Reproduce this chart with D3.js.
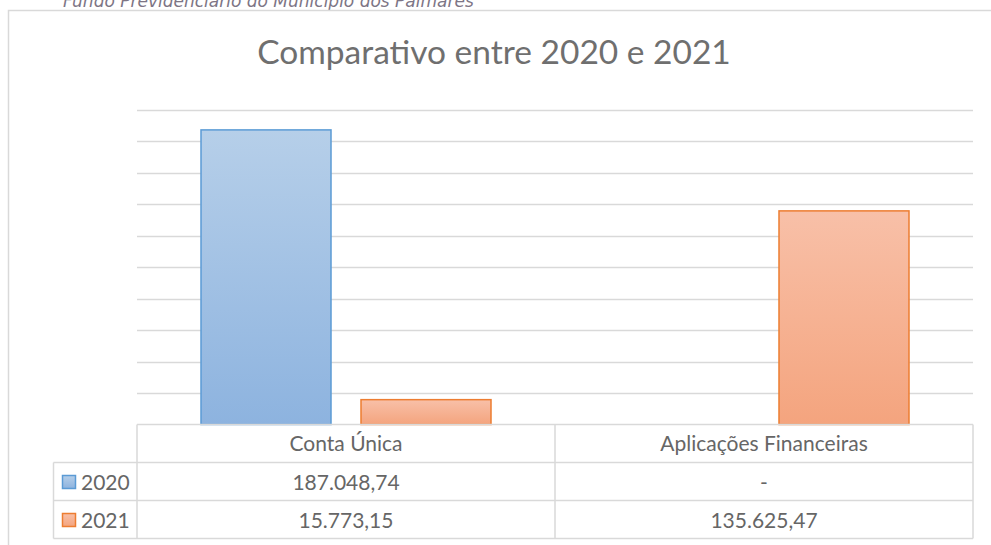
<!DOCTYPE html>
<html>
<head>
<meta charset="utf-8">
<script src="https://cdn.jsdelivr.net/npm/d3@7"></script>
<style>
  html, body { margin: 0; padding: 0; background: #fff; }
  svg { display: block; }
</style>
</head>
<body>
<div id="chart"></div>
<script>
const categories = ['Conta Única', 'Aplicações Financeiras'];
const years = ['2020', '2021'];
const values2020 = [187048.74, 0];
const values2021 = [15773.15, 135625.47];
const labels2020 = ['187.048,74', '-'];
const labels2021 = ['15.773,15', '135.625,47'];
const yTicks = [0, 20000, 40000, 60000, 80000, 100000, 120000, 140000, 160000, 180000, 200000];

const W = 991, H = 545;
const plot = { left: 137, right: 973, top: 109.5, bottom: 424.5 };
const tbl = { legendLeft: 53.5, rowH: 38, top: 424.5 };
const gridColor = '#d9d9d9';
const textColor = '#666666';
const fontFam = 'Lato, "Open Sans", sans-serif';

const seriesStyle = {
    '2020': { top: '#b6cfe9', bottom: '#8db3df', stroke: '#5b9bd5' },
    '2021': { top: '#f8c0a8', bottom: '#f4a47e', stroke: '#ed7d31' }
};

const svg = d3.select('#chart').append('svg')
    .attr('width', W)
    .attr('height', H);

const defs = svg.append('defs');
years.forEach(yr => {
    const g = defs.append('linearGradient')
        .attr('id', `grad${yr}`)
        .attr('x1', 0).attr('y1', 0).attr('x2', 0).attr('y2', 1);
    g.append('stop').attr('offset', '0%').attr('stop-color', seriesStyle[yr].top);
    g.append('stop').attr('offset', '100%').attr('stop-color', seriesStyle[yr].bottom);
});

// texto do documento cortado no topo (como na imagem original)
svg.append('text')
    .attr('x', 63)
    .attr('y', 7)
    .attr('fill', '#7d7585')
    .style('font-family', '"DejaVu Sans", sans-serif')
    .style('font-style', 'italic')
    .style('font-size', '17px')
    .text('Fundo Previdenciário do Município dos Palmares');

// moldura do gráfico
svg.append('path')
    .attr('d', `M8.5,${H} V10.5 H${W}`)
    .attr('fill', 'none')
    .attr('stroke', gridColor)
    .attr('stroke-width', 1.5);

svg.append('text')
    .attr('x', 494)
    .attr('y', 64)
    .attr('text-anchor', 'middle')
    .attr('fill', '#6f6f6f')
    .style('font-family', fontFam)
    .style('font-size', '33.5px')
    .text('Comparativo entre 2020 e 2021');

const x0 = d3.scaleBand().domain(categories).range([plot.left, plot.right]);
const x1 = d3.scaleBand().domain(years).range([64, 354]).paddingInner(0.1875);
const y = d3.scaleLinear().domain([0, 200000]).range([plot.bottom, plot.top]);

// linhas de grade
svg.append('g')
    .selectAll('line')
    .data(yTicks.slice(1))
    .join('line')
    .attr('x1', plot.left)
    .attr('x2', plot.right)
    .attr('y1', d => Math.round(y(d)) + 0.5)
    .attr('y2', d => Math.round(y(d)) + 0.5)
    .attr('stroke', gridColor)
    .attr('stroke-width', 1.5);

const rows = categories.map((c, i) => ({ cat: c, vals: [
    { year: '2020', value: values2020[i] },
    { year: '2021', value: values2021[i] }
] }));

svg.append('g')
    .selectAll('g')
    .data(rows)
    .join('g')
    .attr('transform', d => `translate(${x0(d.cat)},0)`)
    .selectAll('rect')
    .data(d => d.vals.filter(v => v.value > 0))
    .join('rect')
    .attr('x', d => x1(d.year))
    .attr('y', d => y(d.value))
    .attr('width', x1.bandwidth())
    .attr('height', d => y(0) - y(d.value))
    .attr('fill', d => `url(#grad${d.year})`)
    .attr('stroke', d => seriesStyle[d.year].stroke)
    .attr('stroke-width', 1.5);

// tabela de dados
const table = svg.append('g');
const rowY = i => tbl.top + tbl.rowH * i;
const tableLines = [
    [plot.left, rowY(0), plot.right, rowY(0)],
    [tbl.legendLeft, rowY(1), plot.right, rowY(1)],
    [tbl.legendLeft, rowY(2), plot.right, rowY(2)],
    [tbl.legendLeft, rowY(3), plot.right, rowY(3)],
    [tbl.legendLeft, rowY(1), tbl.legendLeft, rowY(3)],
    [plot.left, rowY(0), plot.left, rowY(3)],
    [x0(categories[1]), rowY(0), x0(categories[1]), rowY(3)],
    [plot.right, rowY(0), plot.right, rowY(3)]
];
table.selectAll('line')
    .data(tableLines)
    .join('line')
    .attr('x1', d => d[0]).attr('y1', d => d[1])
    .attr('x2', d => d[2]).attr('y2', d => d[3])
    .attr('stroke', gridColor)
    .attr('stroke-width', 1.5);

const cellText = (xPos, yPos, txt, anchor = 'middle') => table.append('text')
    .attr('x', xPos)
    .attr('y', yPos)
    .attr('text-anchor', anchor)
    .attr('fill', textColor)
    .style('font-family', fontFam)
    .style('font-size', '21px')
    .text(txt);

categories.forEach(c => cellText(x0(c) + x0.bandwidth() / 2, rowY(0) + 26.5, c));
labels2020.forEach((t, i) => cellText(x0(categories[i]) + x0.bandwidth() / 2, rowY(1) + 27.5, t));
labels2021.forEach((t, i) => cellText(x0(categories[i]) + x0.bandwidth() / 2, rowY(2) + 27.5, t));

years.forEach((yr, i) => {
    table.append('rect')
        .attr('x', 62.5)
        .attr('y', rowY(i + 1) + 13)
        .attr('width', 13)
        .attr('height', 13)
        .attr('fill', `url(#grad${yr})`)
        .attr('stroke', seriesStyle[yr].stroke)
        .attr('stroke-width', 1.5);
    cellText(81, rowY(i + 1) + 27.5, yr, 'start');
});
</script>
</body>
</html>
